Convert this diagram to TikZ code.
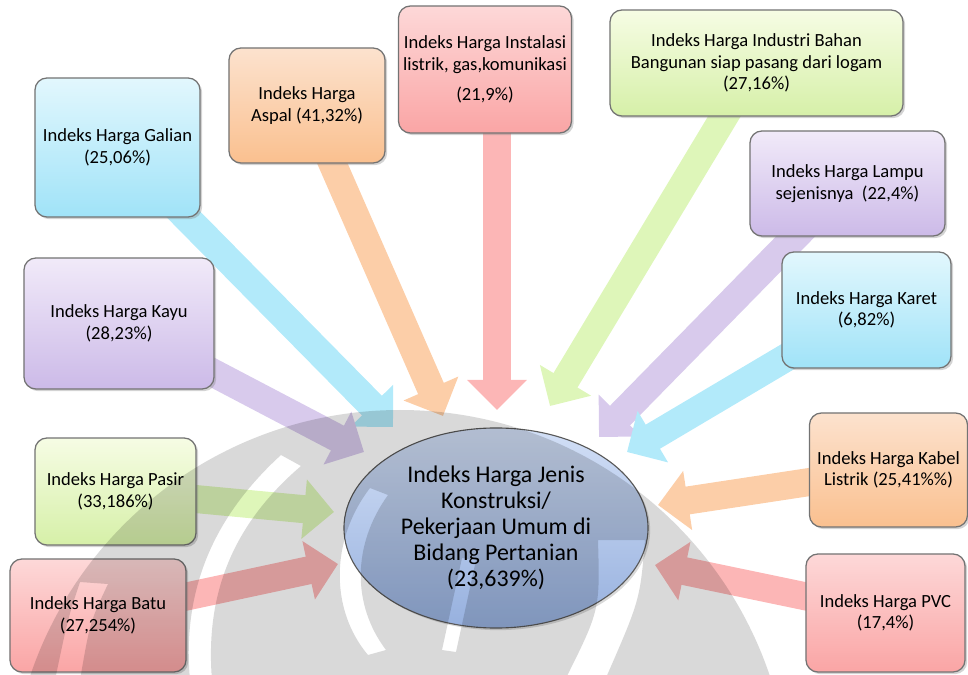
\documentclass[tikz,border=0pt]{standalone}
\usepackage{fontspec}
\setmainfont{Carlito}
\usetikzlibrary{arrows.meta,shadows,shapes.geometric}

\pgfdeclarelayer{panah}
\pgfdeclarelayer{tanda}
\pgfsetlayers{panah,main,tanda}

\definecolor{biruA}{RGB}{226,247,253}
\definecolor{biruB}{RGB}{160,227,248}
\definecolor{oranyeA}{RGB}{252,226,206}
\definecolor{oranyeB}{RGB}{250,192,143}
\definecolor{merahA}{RGB}{253,216,216}
\definecolor{merahB}{RGB}{250,165,165}
\definecolor{hijauA}{RGB}{246,252,228}
\definecolor{hijauB}{RGB}{214,240,168}
\definecolor{unguA}{RGB}{241,234,249}
\definecolor{unguB}{RGB}{204,186,232}
\definecolor{pusatA}{RGB}{210,223,246}
\definecolor{pusatB}{RGB}{150,176,222}
\definecolor{garis}{RGB}{115,115,115}
\definecolor{pBiru}{RGB}{178,234,250}
\definecolor{pOranye}{RGB}{252,206,168}
\definecolor{pMerah}{RGB}{252,182,182}
\definecolor{pHijau}{RGB}{222,246,185}
\definecolor{pUngu}{RGB}{216,202,236}

\tikzset{
  kotak/.style={draw=garis, line width=0.9pt, rounded corners=0.3cm, align=center,
    font=\fontsize{13.2}{15.4}\selectfont,
    drop shadow={opacity=0.35, shadow xshift=1.5pt, shadow yshift=-1.5pt}},
  biru/.style={kotak, top color=biruA, bottom color=biruB},
  oranye/.style={kotak, top color=oranyeA, bottom color=oranyeB},
  merah/.style={kotak, top color=merahA, bottom color=merahB},
  hijau/.style={kotak, top color=hijauA, bottom color=hijauB},
  ungu/.style={kotak, top color=unguA, bottom color=unguB},
  pusat/.style={ellipse, draw=black!65, line width=0.8pt, inner sep=0pt,
    minimum width=7.6cm, minimum height=5cm, align=center,
    top color=pusatA, bottom color=pusatB,
    font=\fontsize{17}{18.5}\selectfont,
    drop shadow={opacity=0.3, shadow xshift=1.5pt, shadow yshift=-1.5pt}},
  panah/.style={line width=0.7cm, -{Triangle[length=0.75cm, width=1.45cm]}},
}

\begin{document}
\begin{tikzpicture}[x=0.025cm, y=-0.025cm]
  \useasboundingbox (0,0) rectangle (968,675);

  % kotak atas
  \node[biru, minimum width=4.125cm, minimum height=3.475cm] (galian) at (117.5,147.5) {Indeks Harga Galian\\(25,06\%)};
  \node[oranye, minimum width=3.9cm, minimum height=2.875cm] (aspal) at (307,105.5) {Indeks Harga\\Aspal (41,32\%)};
  \node[merah, minimum width=4.25cm, minimum height=3.175cm] (instalasi) at (485,69.5) {Indeks Harga Instalasi\\listrik, gas,komunikasi\\[6pt](21,9\%)};
  \node[hijau, minimum width=7.325cm, minimum height=2.65cm] (industri) at (756.5,63) {Indeks Harga Industri Bahan\\Bangunan siap pasang dari logam\\(27,16\%)};
  \node[ungu, minimum width=4.875cm, minimum height=2.625cm] (lampu) at (847.5,183.5) {Indeks Harga Lampu\\sejenisnya~~(22,4\%)};

  % kotak kanan
  \node[biru, minimum width=4.225cm, minimum height=2.9cm] (karet) at (866.5,310) {Indeks Harga Karet\\(6,82\%)};
  \node[oranye, minimum width=3.95cm, minimum height=2.85cm] (kabel) at (888.5,470) {Indeks Harga Kabel\\Listrik (25,41\%\%)};
  \node[merah, minimum width=3.975cm, minimum height=2.95cm] (pvc) at (885.5,613) {Indeks Harga PVC\\(17,4\%)};

  % kotak kiri
  \node[ungu, minimum width=4.75cm, minimum height=3.275cm] (kayu) at (119,323.5) {Indeks Harga Kayu\\(28,23\%)};
  \node[hijau, minimum width=4.025cm, minimum height=2.675cm] (pasir) at (115.5,491.5) {Indeks Harga Pasir\\(33,186\%)};
  \node[merah, minimum width=4.4cm, minimum height=2.825cm] (batu) at (98,615.5) {Indeks Harga Batu\\(27,254\%)};

  % pusat
  \node[pusat] (hub) at (496,528) {Indeks Harga Jenis\\Konstruksi/\\Pekerjaan Umum di\\Bidang Pertanian\\(23,639\%)};

  % ujung panah
  \coordinate (tGalian) at (393,427);
  \coordinate (tAspal) at (443,416);
  \coordinate (tInstalasi) at (497,410);
  \coordinate (tIndustri) at (550,406);
  \coordinate (tLampu) at (599,437);
  \coordinate (tKaret) at (627,452);
  \coordinate (tKabel) at (658,505);
  \coordinate (tPvc) at (655,565);
  \coordinate (tBatu) at (338,564);
  \coordinate (tPasir) at (334,512);
  \coordinate (tKayu) at (364,452);

  \begin{pgfonlayer}{panah}
    \draw[panah, pBiru] (galian.center) -- (tGalian);
    \draw[panah, pOranye] (aspal.center) -- (tAspal);
    \draw[panah, pMerah] (instalasi.center -| tInstalasi) -- (tInstalasi);
    \draw[panah, pHijau] (industri.center) -- (tIndustri);
    \draw[panah, pUngu] (lampu.center) -- (tLampu);
    \draw[panah, pBiru] (karet.center) -- (tKaret);
    \draw[panah, pOranye] (kabel.center) -- (tKabel);
    \draw[panah, pMerah] (pvc.center) -- (tPvc);
    \draw[panah, pMerah] (batu.center) -- (tBatu);
    \draw[panah, pHijau] (pasir.center) -- (tPasir);
    \draw[panah, pUngu] (kayu.center) -- (tKayu);
  \end{pgfonlayer}

  % tanda air
  \begin{pgfonlayer}{tanda}
    \begin{scope}
      \clip (0,0) rectangle (968,675);
      \fill[black, fill opacity=0.15, even odd rule]
        (400,800) circle [radius=390]
        (281,455) .. controls (212,518) and (182,592) .. (190,680) -- (212,680)
          .. controls (205,595) and (232,525) .. (301,466) -- cycle
        (80,582) .. controls (68,618) .. (55,680) -- (80,680)
          .. controls (90,622) .. (108,584) -- cycle
        (370,488) .. controls (330,540) and (330,610) .. (368,655) -- (386,650)
          .. controls (352,605) and (352,545) .. (388,495) -- cycle
        (462,558) -- (476,560) -- (456,652) -- (442,650) -- cycle
        (598,540) -- (645,540) .. controls (640,600) .. (605,680) -- (565,680)
          .. controls (600,610) .. (598,540) -- cycle;
    \end{scope}
  \end{pgfonlayer}
\end{tikzpicture}
\end{document}
